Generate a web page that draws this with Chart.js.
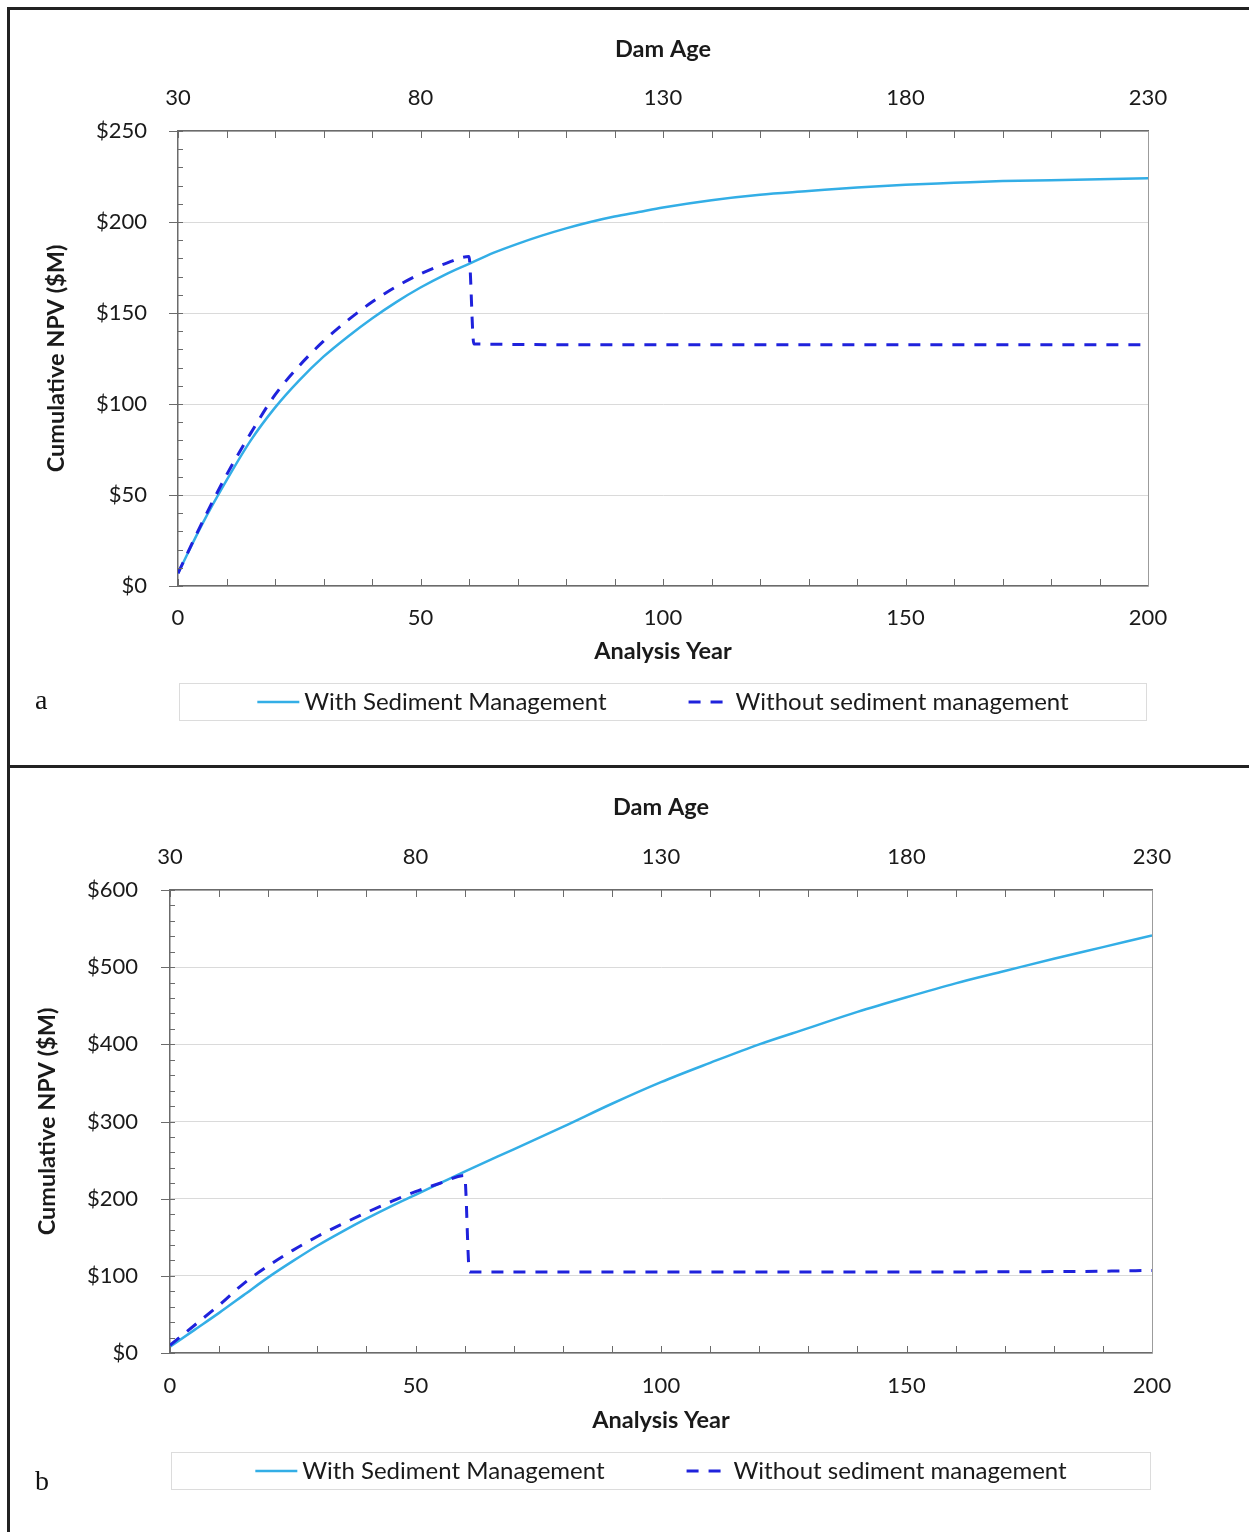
<!DOCTYPE html>
<html lang="en">
<head>
<meta charset="UTF-8">
<title>Cumulative NPV</title>
<script src="https://cdn.jsdelivr.net/npm/chart.js"></script>
<style>
  body { margin: 0; background: #fff; }
  .wrap { position: relative; width: 1249px; height: 1532px; overflow: hidden; }
  canvas { position: absolute; left: 0; }
  .line { position: absolute; background: #222; }
  .tag { position: absolute; font: 28px "Liberation Serif", serif; line-height: 1; color: #111; }
</style>
</head>
<body>
<div class="wrap">
  <canvas id="chartA" width="1249" height="766" style="top:0"></canvas>
  <canvas id="chartB" width="1249" height="766" style="top:766px"></canvas>
  <div class="line" style="left:7px;top:7px;width:1242px;height:3px"></div>
  <div class="line" style="left:7px;top:765px;width:1242px;height:3px"></div>
  <div class="line" style="left:7px;top:7px;width:3px;height:1525px"></div>
  <div class="tag" style="left:35px;top:686px">a</div>
  <div class="tag" style="left:35px;top:1467px">b</div>
</div>

<script>
// ---- data ----
const seriesNames = ['With Sediment Management', 'Without sediment management'];
const damAgeTicks = [30, 80, 130, 180, 230];

// panel a
const yearsWithA = [0, 5, 10, 15, 20, 25, 30, 35, 40, 45, 50, 55, 60, 65, 70, 75, 80, 85, 90, 95, 100,
                    110, 120, 130, 140, 150, 160, 170, 180, 190, 200];
const npvWithA = [7, 34, 58, 80, 98, 113, 126, 137, 147, 156, 164, 171, 177, 183, 188, 192.5, 196.5, 200, 203, 205.5, 208,
                  212, 215, 217, 219, 220.5, 221.5, 222.5, 223, 223.5, 224];
const yearsWithoutA = [0, 5, 10, 15, 20, 25, 30, 35, 40, 45, 50, 55, 60, 61, 100, 150, 200];
const npvWithoutA = [7, 35, 61, 84, 105, 121, 134.5, 146, 156, 164.5, 171.5, 177, 181, 133, 132.5, 132.5, 132.5];

// panel b
const yearsWithB = [0, 5, 10, 15, 20, 25, 30, 35, 40, 45, 50, 55, 60, 70, 80, 90, 100,
                    110, 120, 130, 140, 150, 160, 170, 180, 190, 200];
const npvWithB = [8, 30, 52, 75, 98, 119, 139, 157, 174, 190, 205, 220, 235, 264, 293, 323, 351,
                  376, 400, 421, 442, 461, 479, 495, 511, 526, 541];
const yearsWithoutB = [0, 5, 10, 15, 20, 25, 30, 35, 40, 45, 50, 55, 60, 61, 100, 150, 180, 190, 200];
const npvWithoutB = [10, 36, 62, 90, 113, 133, 151, 167, 182, 196, 209, 220, 230, 105, 105, 105, 105.5, 106, 107];

Chart.defaults.font.family = 'Lato';
Chart.defaults.color = '#1a1a1a';

const AXIS = '#6b6b6b';

// tick marks pointing into the plot, frame on the right, boxed legend
const frame = {
  id: 'frame',
  afterDraw(chart, args, o) {
    const { ctx, chartArea: a, scales: { x, y } } = chart;
    ctx.save();
    ctx.strokeStyle = AXIS;
    ctx.lineWidth = 1;
    ctx.beginPath();
    for (let v = x.min; v <= x.max; v += 10) {
      const px = Math.round(x.getPixelForValue(v)) + 0.5;
      ctx.moveTo(px, a.bottom); ctx.lineTo(px, a.bottom - 7);
      ctx.moveTo(px, a.top); ctx.lineTo(px, a.top + 7);
    }
    for (let v = y.min; v <= y.max; v += o.yMinor) {
      const py = Math.round(y.getPixelForValue(v)) + 0.5;
      const major = v % o.yMajor === 0;
      ctx.moveTo(a.left - (major ? 9 : 0), py); ctx.lineTo(a.left + 5, py);
    }
    ctx.stroke();

    ctx.strokeStyle = '#9c9c9c';
    ctx.beginPath();
    ctx.moveTo(a.right + 0.5, a.top); ctx.lineTo(a.right + 0.5, a.bottom);
    ctx.stroke();

    // legend
    const top = a.bottom + o.legendGap, h = 37;
    ctx.strokeStyle = '#dcdcdc';
    ctx.strokeRect(a.left + 1.5, top + 0.5, a.right - a.left - 3, h);
    ctx.font = '24px Lato';
    ctx.fillStyle = '#1a1a1a';
    ctx.textBaseline = 'middle';
    const sets = chart.data.datasets;
    const sw = [42, 35], gap = [5, 12], itemGap = 82;
    const tw = sets.map(d => ctx.measureText(d.label).width);
    let total = itemGap;
    sets.forEach((d, i) => { total += sw[i] + gap[i] + tw[i]; });
    let cx = (a.left + a.right) / 2 - total / 2;
    const cy = top + h / 2 + 0.5;
    sets.forEach((d, i) => {
      ctx.strokeStyle = d.borderColor;
      ctx.lineWidth = d.borderWidth;
      ctx.setLineDash(d.borderDash || []);
      ctx.beginPath();
      ctx.moveTo(cx, cy); ctx.lineTo(cx + sw[i], cy);
      ctx.stroke();
      ctx.setLineDash([]);
      cx += sw[i] + gap[i];
      ctx.fillText(d.label, cx, cy);
      cx += tw[i] + itemGap;
    });
    ctx.restore();
  }
};

function pts(xs, ys) {
  return xs.map((v, i) => ({ x: v, y: ys[i] }));
}

function makeChart(id, p) {
  const titleFont = { size: 23.5, weight: 'bold' };
  const tickFont = { size: 22 };
  return new Chart(document.getElementById(id), {
    type: 'line',
    data: {
      datasets: [
        {
          label: seriesNames[0], data: pts(p.xWith, p.yWith),
          borderColor: '#33aee6', borderWidth: 2.5, pointRadius: 0,
          cubicInterpolationMode: 'monotone', order: 1
        },
        {
          label: seriesNames[1], data: pts(p.xWithout, p.yWithout),
          borderColor: '#1f22dc', borderWidth: 3, borderDash: [12, 10], pointRadius: 0,
          cubicInterpolationMode: 'monotone', order: 0
        }
      ]
    },
    options: {
      responsive: false,
      animation: false,
      layout: { padding: { left: 0, right: p.padRight, top: 0, bottom: 0 } },
      plugins: {
        legend: { display: false },
        tooltip: { enabled: false },
        frame: { yMinor: p.yMinor, yMajor: p.yMajor, legendGap: p.legendGap }
      },
      scales: {
        x: {
          type: 'linear', position: 'bottom', min: 0, max: 200,
          ticks: { stepSize: 50, padding: p.xTickPad, font: tickFont, maxRotation: 0 },
          grid: { display: false, drawTicks: false },
          border: { color: AXIS, width: 1.5 },
          title: { display: true, text: 'Analysis Year', font: titleFont, padding: { top: 0, bottom: p.xTitlePad } },
          afterFit: s => { s.height = p.xHeight; }
        },
        x2: {
          type: 'linear', position: 'top', min: 30, max: 230,
          afterBuildTicks: s => { s.ticks = damAgeTicks.map(v => ({ value: v })); },
          ticks: { padding: p.x2TickPad, font: tickFont, maxRotation: 0 },
          grid: { display: false, drawTicks: false },
          border: { color: AXIS, width: 1.5 },
          title: { display: true, text: 'Dam Age', font: titleFont, padding: { top: p.x2TitlePad, bottom: 0 } },
          afterFit: s => { s.height = p.x2Height; }
        },
        y: {
          min: 0, max: p.yMax,
          ticks: { stepSize: p.yMajor, padding: p.yTickPad, font: tickFont, callback: v => '$' + v },
          grid: { color: '#dadada', lineWidth: 1, drawTicks: false },
          border: { color: AXIS, width: 1.5 },
          title: { display: true, text: 'Cumulative NPV ($M)', font: titleFont, padding: { top: p.yTitlePad, bottom: 0 } },
          afterFit: s => { s.width = p.yWidth; }
        }
      }
    },
    plugins: [frame]
  });
}

makeChart('chartA', {
  xWith: yearsWithA, yWith: npvWithA, xWithout: yearsWithoutA, yWithout: npvWithoutA,
  yMax: 250, yMajor: 50, yMinor: 10,
  padRight: 101, yWidth: 178, xHeight: 180, x2Height: 131,
  yTickPad: 31, xTickPad: 19, x2TickPad: 20,
  yTitlePad: 42, xTitlePad: 100, x2TitlePad: 35, legendGap: 97
});

makeChart('chartB', {
  xWith: yearsWithB, yWith: npvWithB, xWithout: yearsWithoutB, yWithout: npvWithoutB,
  yMax: 600, yMajor: 100, yMinor: 20,
  padRight: 97, yWidth: 170, xHeight: 179, x2Height: 124,
  yTickPad: 32, xTickPad: 20, x2TickPad: 20,
  yTitlePad: 33, xTitlePad: 97, x2TitlePad: 27, legendGap: 99
});
</script>
</body>
</html>
